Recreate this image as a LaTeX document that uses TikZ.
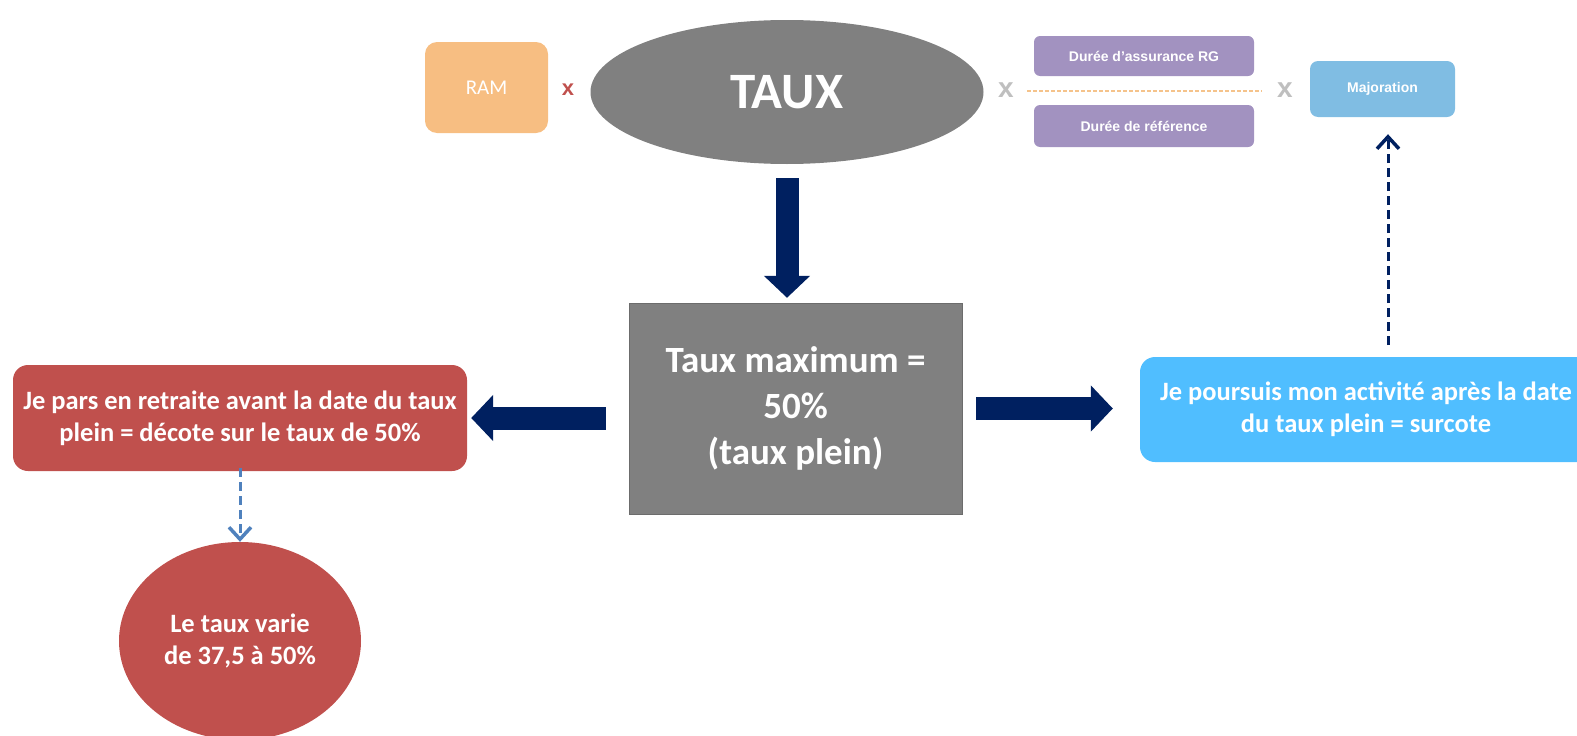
\documentclass[tikz,border=0pt]{standalone}
\usepackage{fontspec}
\setmainfont{Carlito}
\newfontfamily\arialfont{Liberation Sans}
\usetikzlibrary{arrows.meta,shapes.geometric}
\definecolor{navy}{HTML}{002060}
\definecolor{brick}{HTML}{C0504D}
\definecolor{peach}{HTML}{F7BE82}
\definecolor{lilac}{HTML}{A292C0}
\definecolor{skyblue}{HTML}{80BDE3}
\definecolor{brightblue}{HTML}{50BEFF}
\definecolor{steel}{HTML}{4F81BD}
\definecolor{fracorange}{HTML}{F5C38B}
\definecolor{xgray}{HTML}{BFBFBF}

\begin{document}
\begin{tikzpicture}[x=1pt, y=-1pt,
    every node/.style={inner sep=0pt, align=center},
    smallbox/.style={rectangle, rounded corners=6pt, text=white, font=\arialfont\bfseries\fontsize{14}{17}\selectfont},
    bigtext/.style={text=white, font=\bfseries\fontsize{26.5}{32}\selectfont},
    times/.style={font=\arialfont\bfseries\fontsize{28}{30}\selectfont, text=xgray},
    bigarrow/.style={navy, line width=23pt, -{Triangle[width=45pt, length=22pt]}},
    dasharrow/.style={line width=3pt, dash pattern=on 9pt off 5pt, -{Straight Barb[length=12pt, width=22pt, line width=3.5pt]}}]
    \useasboundingbox (0,0) rectangle (1577,736);

    % formula line
    \node (ram) [rectangle, rounded corners=12pt, fill=peach, minimum width=123pt, minimum height=91pt, text=white, font=\fontsize{21}{24}\selectfont] at (486.5,87.5) {RAM};
    \node (x1) [font=\arialfont\bfseries\fontsize{22}{24}\selectfont, text=brick] at (568,90) {x};
    \node (taux) [ellipse, fill=gray, minimum width=393pt, minimum height=144pt, text=white, font=\bfseries\fontsize{51}{56}\selectfont] at (787,92) {TAUX};
    \node (x2) [times] at (1006,90) {x};
    \node (dura) [smallbox, fill=lilac, minimum width=220pt, minimum height=40pt] at (1144,56) {Durée d’assurance RG};
    \node (duref) [smallbox, fill=lilac, minimum width=220pt, minimum height=42pt] at (1144,126) {Durée de référence};
    \node (x3) [times] at (1285,90) {x};
    \node (major) [smallbox, rounded corners=8pt, fill=skyblue, minimum width=145pt, minimum height=56pt] at (1382.5,89) {Majoration};
    \coordinate (fracL) at (1027,91);
    \coordinate (fracR) at (1262,91);
    \draw[fracorange, line width=1.2pt, dash pattern=on 4pt off 2pt] (fracL) -- (fracR);

    % middle row
    \node (tauxmax) [rectangle, fill=gray, draw=gray!85!black, minimum width=333pt, minimum height=211pt, text=white, font=\bfseries\fontsize{37}{46}\selectfont] at (795.5,408.5) {Taux maximum =\\50\%\\(taux plein)};
    \node (decote) [bigtext, rectangle, rounded corners=15pt, fill=brick, minimum width=454pt, minimum height=106pt] at (240,418) {Je pars en retraite avant la date du taux\\plein = décote sur le taux de 50\%};
    \node (surcote) [bigtext, rectangle, rounded corners=15pt, fill=brightblue, minimum width=452pt, minimum height=105pt] at (1366,409.5) {Je poursuis mon activité après la date\\du taux plein = surcote};
    \node (varie) [bigtext, ellipse, fill=brick, minimum width=242pt, minimum height=198pt] at (240,641) {Le taux varie\\de 37,5 à 50\%};
    \coordinate (up0) at (1388,345);

    \draw[bigarrow, shorten <=14pt, shorten >=5pt] (taux.south) -- (taux.south |- tauxmax.north);
    \draw[bigarrow, shorten <=23pt, shorten >=4pt] (tauxmax.west |- decote.east) -- (decote.east);
    \draw[bigarrow, shorten <=14pt, shorten >=27pt] (tauxmax.east) -- (tauxmax.east -| surcote.west);
    \draw[dasharrow, navy, shorten >=17pt] (up0) -- (up0 |- major.south);
    \draw[dasharrow, steel, shorten <=-3pt] (decote.south) -- (varie.north);
\end{tikzpicture}
\end{document}
